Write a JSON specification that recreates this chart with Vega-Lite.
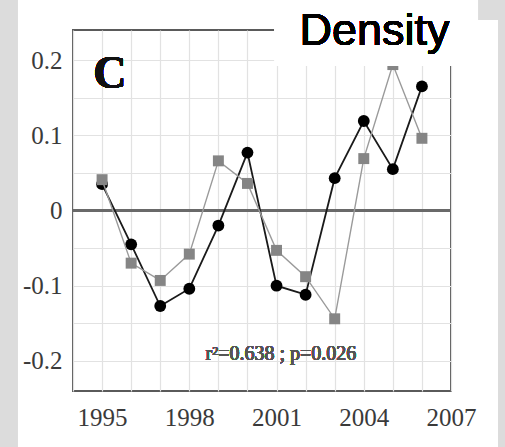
{
  "$schema": "https://vega.github.io/schema/vega-lite/v6.json",
  "width": 378,
  "height": 361,
  "autosize": "none",
  "padding": {"left": 73, "top": 30, "right": 54, "bottom": 56},
  "background": "white",
  "config": {
    "view": {"stroke": "#5a5a5a", "strokeWidth": 2},
    "axis": {
      "labelFont": "Liberation Serif",
      "labelFontSize": 25,
      "labelColor": "#3a3a3a",
      "domain": false,
      "ticks": false,
      "gridColor": "#e2e2e2",
      "gridWidth": 1.2,
      "title": null
    }
  },
  "data": {
    "values": [
      {"year": 1995, "series": "black", "value": 0.035},
      {"year": 1996, "series": "black", "value": -0.045},
      {"year": 1997, "series": "black", "value": -0.127},
      {"year": 1998, "series": "black", "value": -0.104},
      {"year": 1999, "series": "black", "value": -0.02},
      {"year": 2000, "series": "black", "value": 0.077},
      {"year": 2001, "series": "black", "value": -0.1},
      {"year": 2002, "series": "black", "value": -0.112},
      {"year": 2003, "series": "black", "value": 0.043},
      {"year": 2004, "series": "black", "value": 0.119},
      {"year": 2005, "series": "black", "value": 0.055},
      {"year": 2006, "series": "black", "value": 0.165},
      {"year": 1995, "series": "grey", "value": 0.041},
      {"year": 1996, "series": "grey", "value": -0.07},
      {"year": 1997, "series": "grey", "value": -0.093},
      {"year": 1998, "series": "grey", "value": -0.058},
      {"year": 1999, "series": "grey", "value": 0.066},
      {"year": 2000, "series": "grey", "value": 0.036},
      {"year": 2001, "series": "grey", "value": -0.053},
      {"year": 2002, "series": "grey", "value": -0.088},
      {"year": 2003, "series": "grey", "value": -0.144},
      {"year": 2004, "series": "grey", "value": 0.069},
      {"year": 2005, "series": "grey", "value": 0.194},
      {"year": 2006, "series": "grey", "value": 0.096}
    ]
  },
  "encoding": {
    "x": {
      "field": "year",
      "type": "quantitative",
      "scale": {"domain": [1994, 2007], "nice": false, "zero": false},
      "axis": {
        "values": [1994, 1995, 1996, 1997, 1998, 1999, 2000, 2001, 2002, 2003, 2004, 2005, 2006, 2007],
        "labelExpr": "(datum.value - 1995) % 3 == 0 ? toString(datum.value) : ''",
        "labelPadding": 14,
        "labelFlush": false
      }
    },
    "y": {
      "field": "value",
      "type": "quantitative",
      "scale": {"domain": [-0.24, 0.24], "nice": false},
      "axis": {
        "values": [-0.2, -0.15, -0.1, -0.05, 0, 0.05, 0.1, 0.15, 0.2],
        "labelExpr": "abs(round(datum.value * 100)) % 10 == 0 ? toString(round(datum.value * 10) / 10) : ''",
        "labelPadding": 11
      }
    }
  },
  "layer": [
    {
      "mark": {"type": "rule", "color": "#6a6a6a", "strokeWidth": 2.4},
      "encoding": {"x": null, "y": {"datum": 0}}
    },
    {
      "transform": [{"filter": "datum.series == 'black'"}],
      "mark": {"type": "line", "color": "#1a1a1a", "strokeWidth": 1.8},
      "encoding": {}
    },
    {
      "transform": [{"filter": "datum.series == 'black'"}],
      "mark": {"type": "point", "shape": "circle", "filled": true, "color": "#000000", "size": 140, "opacity": 1},
      "encoding": {}
    },
    {
      "transform": [{"filter": "datum.series == 'grey'"}],
      "mark": {"type": "line", "color": "#9a9a9a", "strokeWidth": 1.4},
      "encoding": {}
    },
    {
      "transform": [{"filter": "datum.series == 'grey'"}],
      "mark": {"type": "point", "shape": "square", "filled": true, "color": "#858585", "size": 120, "opacity": 1},
      "encoding": {}
    },
    {
      "mark": {"type": "text", "text": "C", "font": "Liberation Serif", "fontWeight": "bold", "fontSize": 46, "align": "left", "baseline": "alphabetic", "color": "#111111"},
      "encoding": {"x": {"datum": 1994.7}, "y": {"datum": 0.163}}
    },
    {
      "mark": {"type": "text", "text": "r²=0.638 ; p=0.026", "font": "Liberation Serif", "fontSize": 20, "align": "center", "baseline": "alphabetic", "color": "#555555"},
      "encoding": {"x": {"datum": 2001.15}, "y": {"datum": -0.199}}
    },
    {
      "mark": {"type": "rect", "color": "#ffffff", "clip": false},
      "encoding": {"x": {"datum": 2000.94}, "x2": {"datum": 2007.86}, "y": {"datum": 0.29}, "y2": {"datum": 0.1925}}
    },
    {
      "mark": {"type": "text", "text": "Density", "font": "Liberation Sans", "fontSize": 45, "align": "center", "baseline": "alphabetic", "color": "#000000", "clip": false},
      "encoding": {"x": {"datum": 2004.37}, "y": {"datum": 0.22}}
    },
    {
      "mark": {"type": "rect", "color": "#dcdcdc", "clip": false},
      "encoding": {"x": {"datum": 1991.2}, "x2": {"datum": 1992.1}, "y": {"datum": 0.3}, "y2": {"datum": -0.33}}
    },
    {
      "mark": {"type": "rect", "color": "#dcdcdc", "clip": false},
      "encoding": {"x": {"datum": 2008.62}, "x2": {"datum": 2009.3}, "y": {"datum": 0.3}, "y2": {"datum": -0.33}}
    },
    {
      "mark": {"type": "rect", "color": "#dcdcdc", "clip": false},
      "encoding": {"x": {"datum": 2007.96}, "x2": {"datum": 2009.3}, "y": {"datum": 0.3}, "y2": {"datum": 0.2533}}
    }
  ]
}
